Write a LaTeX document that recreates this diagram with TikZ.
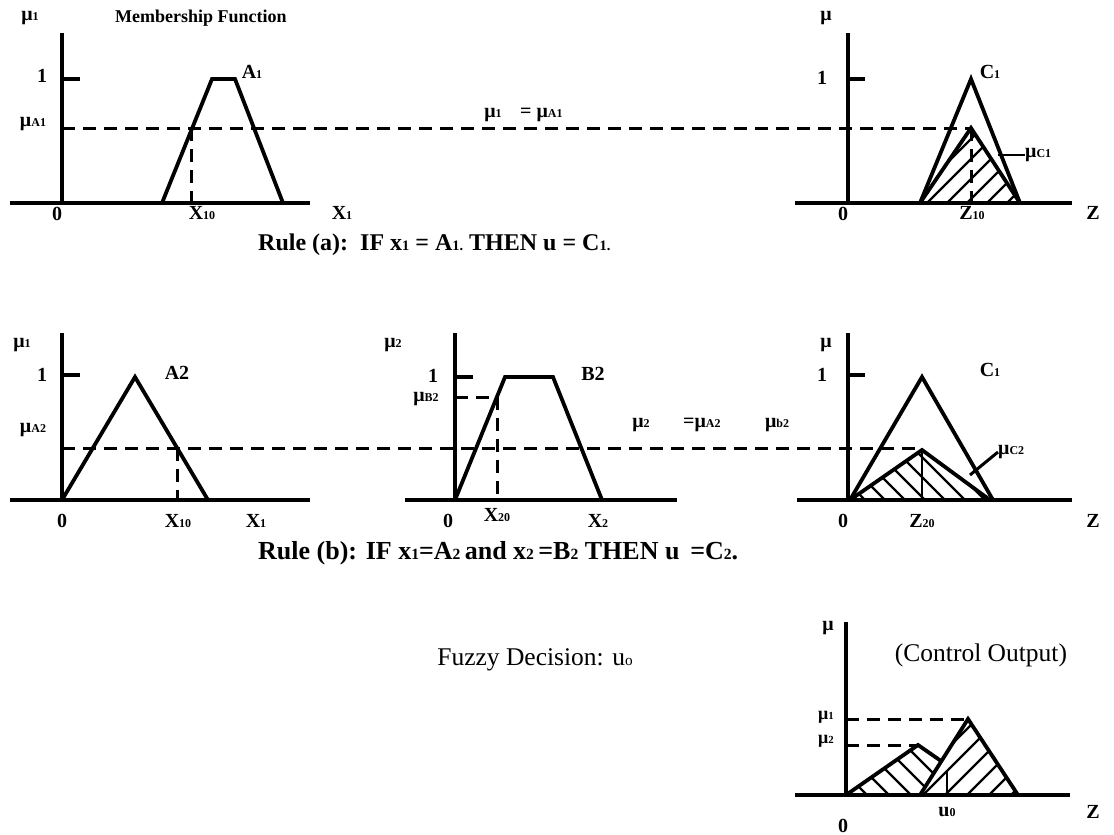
\documentclass[tikz,border=0pt]{standalone}
\usepackage{fontspec}
\setmainfont{Liberation Serif}
\newcommand\sbx[1]{\scalebox{0.6}{#1}}
\tikzset{
  axisline/.style={line width=3.2pt},
  curve/.style={line width=3.8pt, line join=miter, miter limit=4},
  dline/.style={line width=3pt, dash pattern=on 13pt off 8pt},
  hline/.style={line width=2.4pt},
  lab/.style={font=\fontsize{20}{22}\selectfont\bfseries, inner sep=0pt},
  smalllab/.style={font=\fontsize{18}{20}\selectfont\bfseries, inner sep=0pt},
  ruletext/.style={font=\fontsize{24}{28}\selectfont\bfseries, inner sep=0pt},
  plaintext/.style={font=\fontsize{25.5}{28}\selectfont, inner sep=0pt},
}
\begin{document}
\begin{tikzpicture}[x=1pt,y=-1pt]
\useasboundingbox (0,0) rectangle (1114,835);
\fill[white] (0,0) rectangle (1114,835);

% ================= TOP LEFT =================
\draw[axisline] (62,33) -- (62,203);
\draw[axisline] (10,203) -- (310,203);
\draw[axisline] (62,79) -- (80,79);
\draw[curve] (162,203) -- (212,79) -- (235,79) -- (283,203);
\draw[dline] (62,128) -- (971,128);
\draw[dline] (191,128) -- (191,203);
\node[lab] (tlmu) at (30,18) {μ\sbx{1}};
\node[smalllab,anchor=west] (mf) at (115,18) {Membership Function};
\node[lab] (tlone) at (42,76) {1};
\node[lab] (tlmua) at (33,124) {μ\sbx{A1}};
\node[lab] (tlzero) at (57,214) {0};
\node[lab] (tlx10) at (202,213) {X\sbx{10}};
\node[lab] (tlx1) at (342,213) {X\sbx{1}};
\node[lab] (tlA1) at (252,72) {A\sbx{1}};
\node[lab] (eq1) at (493,115) {μ\sbx{1}};
\node[lab,anchor=west] (eq1b) at (520,115) {= μ\sbx{A1}};

% ================= TOP RIGHT =================
\begin{scope}
\clip (920,203) -- (971,128) -- (1020,203) -- cycle;
\foreach \s in {820,840,...,1020} \draw[hline] (\s,210) -- ++(100,-100);
\end{scope}
\draw[axisline] (848,33) -- (848,203);
\draw[axisline] (795,203) -- (1072,203);
\draw[axisline] (848,79) -- (865,79);
\draw[curve] (920,203) -- (971,79) -- (1020,203);
\draw[curve] (920,203) -- (971,128) -- (1020,203);
\draw[dline] (971,128) -- (971,203);
\node[lab] (trmu) at (826,18) {μ};
\node[lab] (trone) at (822,78) {1};
\node[lab] (trC1) at (990,72) {C\sbx{1}};
\coordinate (c1a) at (998,155);
\node[lab,anchor=west] (trmuc) at (1025,155) {μ\sbx{C1}};
\draw[line width=2.6pt] (c1a) -- (trmuc.west);
\node[lab] (trzero) at (843,214) {0};
\node[lab] (trz10) at (972,213) {Z\sbx{10}};
\node[lab] (trz) at (1093,213) {Z};

\node[ruletext,anchor=west] (rulea) at (258,245) {Rule (a):\ \ IF x\sbx{1} = A\sbx{1.} THEN u = C\sbx{1.}};

% ================= MIDDLE LEFT =================
\draw[axisline] (62,333) -- (62,500);
\draw[axisline] (10,500) -- (310,500);
\draw[axisline] (62,375) -- (80,375);
\draw[curve] (62,500) -- (135,377) -- (208,500);
\draw[dline] (62,448) -- (922,448);
\draw[dline] (177,448) -- (177,500);
\node[lab] (mlmu) at (22,345) {μ\sbx{1}};
\node[lab] (mlone) at (42,375) {1};
\node[lab] (mlmua) at (33,430) {μ\sbx{A2}};
\node[lab] (mlA2) at (177,373) {A2};
\node[lab] (mlzero) at (62,521) {0};
\node[lab] (mlx10) at (178,521) {X\sbx{10}};
\node[lab] (mlx1) at (256,521) {X\sbx{1}};

% ================= MIDDLE CENTER =================
\draw[axisline] (455,333) -- (455,500);
\draw[axisline] (405,500) -- (677,500);
\draw[axisline] (455,377) -- (473,377);
\draw[dline] (455,397) -- (497,397);
\draw[curve] (455,500) -- (505,377) -- (553,377) -- (602,500);
\draw[dline] (497,397) -- (497,500);
\node[lab] (mcmu) at (393,345) {μ\sbx{2}};
\node[lab] (mcone) at (433,376) {1};
\node[lab] (mcmub) at (426,399) {μ\sbx{B2}};
\node[lab] (mcB2) at (593,374) {B2};
\node[lab] (mczero) at (448,521) {0};
\node[lab] (mcx20) at (497,515) {X\sbx{20}};
\node[lab] (mcx2) at (598,521) {X\sbx{2}};
\node[lab] (eq2) at (641,425) {μ\sbx{2}};
\node[lab,anchor=west] (eq2b) at (683,425) {=μ\sbx{A2}};
\node[lab] (eq2c) at (777,425) {μ\sbx{b2}};

% ================= MIDDLE RIGHT =================
\begin{scope}
\clip (850,500) -- (922,450) -- (990,500) -- cycle;
\foreach \s in {850,870,...,1090} \draw[hline] (\s,505) -- ++(-80,-80);
\end{scope}
\draw[axisline] (848,333) -- (848,500);
\draw[axisline] (797,500) -- (1072,500);
\draw[axisline] (848,375) -- (865,375);
\draw[curve] (850,500) -- (922,377) -- (993,500);
\draw[curve] (850,500) -- (922,450) -- (990,500);
\draw[line width=2.6pt] (922,450) -- (922,500);
\node[lab] (mrmu) at (826,345) {μ};
\node[lab] (mrone) at (822,375) {1};
\node[lab] (mrC1) at (990,370) {C\sbx{1}};
\coordinate (c2a) at (970,475);
\node[lab,anchor=west] (mrmuc) at (998,452) {μ\sbx{C2}};
\draw[line width=3pt] (c2a) -- (mrmuc.west);
\node[lab] (mrzero) at (843,521) {0};
\node[lab] (mrz20) at (922,521) {Z\sbx{20}};
\node[lab] (mrz) at (1093,521) {Z};

\node[ruletext,anchor=west,font=\fontsize{26}{28}\selectfont\bfseries] (ruleb) at (258,553) {Rule (b): IF x\sbx{1}=A\sbx{2}\,and x\sbx{2}\,=B\sbx{2} THEN u\ \,=C\sbx{2}.};

% ================= BOTTOM =================
\node[plaintext] (fd) at (535,660) {Fuzzy Decision: u\sbx{o}};
\begin{scope}
\clip (846,795) -- (918,745) -- (941.5,761.3) -- (920,795) -- cycle;
\foreach \s in {850,872,...,1020} \draw[hline] (\s,800) -- ++(-70,-70);
\end{scope}
\begin{scope}
\clip (920,795) -- (968,719) -- (1018,795) -- cycle;
\foreach \s in {830,852,...,1030} \draw[hline] (\s,800) -- ++(100,-100);
\end{scope}
\draw[axisline] (846,622) -- (846,795);
\draw[axisline] (795,795) -- (1070,795);
\draw[dline] (846,719) -- (968,719);
\draw[dline] (846,745) -- (918,745);
\draw[curve] (846,795) -- (918,745) -- (941.5,761.3);
\draw[curve] (920,795) -- (968,719) -- (1018,795);
\draw[line width=2.6pt] (947,770) -- (947,795);
\node[lab] (bmu) at (828,628) {μ};
\node[plaintext] (co) at (981,655) {(Control Output)};
\node[smalllab] (bmu1) at (826,717) {μ\sbx{1}};
\node[smalllab] (bmu2) at (826,741) {μ\sbx{2}};
\node[lab] (bu0) at (947,812) {u\sbx{0}};
\node[lab] (bzero) at (843,826) {0};
\node[lab] (bz) at (1093,812) {Z};
\end{tikzpicture}
\end{document}
